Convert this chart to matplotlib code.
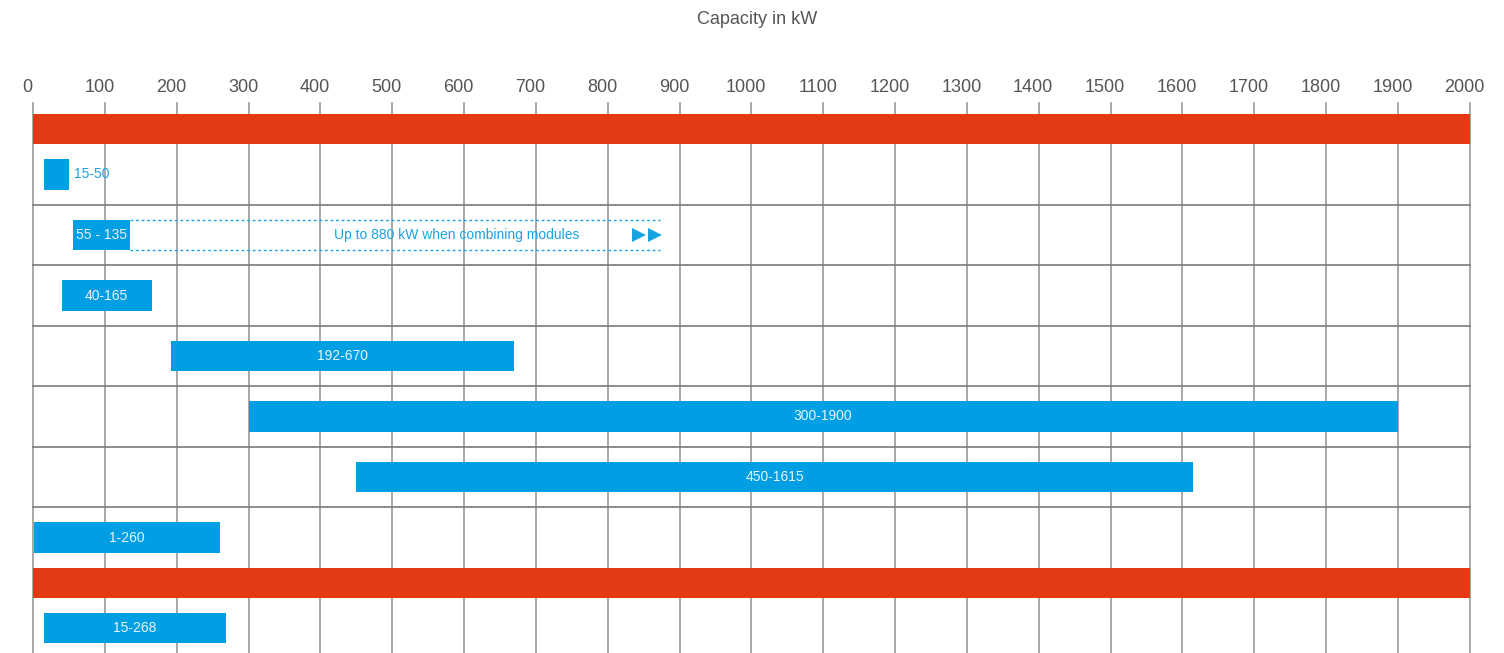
import matplotlib
matplotlib.use("Agg")
import matplotlib.pyplot as plt

# Capacity ranges (kW) per product row
range_lo = [15, 55, 40, 192, 300, 450, 1, 15]
range_hi = [50, 135, 165, 670, 1900, 1615, 260, 268]
range_labels = ["15-50", "55 - 135", "40-165", "192-670", "300-1900", "450-1615", "1-260", "15-268"]
row_centers = [1, 2, 3, 4, 5, 6, 7, 8.5]

# Full-scale category bands
band_lo = [0, 0]
band_hi = [2000, 2000]
band_centers = [0.25, 7.75]

# Modular extension of the second row
ext_row = 2
ext_hi = 880
ext_text = "Up to 880 kW when combining modules"

x_ticks = list(range(0, 2001, 100))

BLUE = "#009fe3"
BLUE_TXT = "#1aa3e2"
RED = "#e43915"
GREY_TXT = "#555555"

W, H, DPI = 1504, 653, 100
fig = plt.figure(figsize=(W / DPI, H / DPI), dpi=DPI)
ax = fig.add_axes([0, 0, 1, 1])

# pixel scale: 0 kW at x=33 px, 2000 kW at x=1469.7 px
px_per_kw = (1469.7 - 33) / 2000
ax.set_xlim(-33 / px_per_kw, 2000 + (W - 1469.7) / px_per_kw)
row_px = 60.5
top_px = 114
ax.set_ylim((H - top_px) / row_px, -top_px / row_px)
ax.axis("off")

font = "Liberation Sans"

# vertical grid lines (also act as tick marks above the first band)
grid_top = -11 / row_px
for t in x_ticks:
    ax.plot([t, t], [grid_top, (H - top_px) / row_px], color="#9a9a9a", lw=1.2, zorder=1)
    ax.text(t - 5.5 / px_per_kw, -26 / row_px, str(t), ha="center", va="center",
            fontsize=13, color=GREY_TXT, family=font)

# horizontal row separators
for yb in [1.5, 2.5, 3.5, 4.5, 5.5, 6.5]:
    ax.plot([0, 2000], [yb, yb], color="#7a7a7a", lw=1.2, zorder=1)

# red full-scale bands
for lo, hi, yc in zip(band_lo, band_hi, band_centers):
    ax.barh(yc, hi - lo, left=lo, height=0.5, color=RED, zorder=3)

# capacity bars
bar_h = 0.5
for lo, hi, yc, lab in zip(range_lo, range_hi, row_centers, range_labels):
    ax.barh(yc, hi - lo, left=lo, height=bar_h, color=BLUE, zorder=3)
    if hi - lo < 60:
        ax.text(hi + 5 / px_per_kw, yc, lab, ha="left", va="center", fontsize=10,
                color=BLUE_TXT, family=font, zorder=4)
    else:
        ax.text((lo + hi) / 2, yc, lab, ha="center", va="center", fontsize=10,
                color="#e6f4fb", family=font, zorder=4)

# dotted outline of the module extension
ext_lo = range_hi[ext_row - 1]
for yy in [ext_row - bar_h / 2, ext_row + bar_h / 2]:
    ax.plot([ext_lo, ext_hi - 5 / px_per_kw], [yy, yy], color=BLUE_TXT, lw=1.0,
            linestyle=(0, (2, 2)), zorder=2)
ax.text((ext_lo + ext_hi) / 2 + 82, ext_row, ext_text, ha="center", va="center",
        fontsize=10, color=BLUE_TXT, family=font, zorder=4)
for off in [26.5, 10]:
    ax.plot(ext_hi - off / px_per_kw, ext_row, marker=">", markersize=10,
            color=BLUE_TXT, markeredgewidth=0, zorder=4)

fig.text(757 / W, 1 - 20 / H, "Capacity in kW", ha="center", va="center",
         fontsize=13, color=GREY_TXT, family=font)

fig.savefig("out.png", dpi=DPI)
